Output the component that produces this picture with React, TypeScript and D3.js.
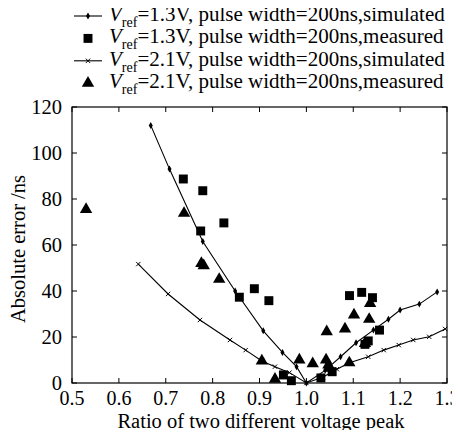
import React, { useEffect, useRef } from "react";
import * as d3 from "d3";

// V_ref = 1.3V simulated (line with dots)
const sim13X = [0.668, 0.708, 0.779, 0.848, 0.908, 0.949, 0.979, 1.0, 1.04, 1.073, 1.106, 1.143, 1.175, 1.2, 1.241, 1.279];
const sim13Y = [112, 93, 61.5, 40, 22.7, 13.3, 7.1, 0, 5.5, 11.4, 17.5, 23, 27.7, 31.7, 34.3, 39.6];

// V_ref = 2.1V simulated (line with x marks)
const sim21X = [0.6415, 0.705, 0.773, 0.837, 0.8705, 0.905, 0.933, 0.964, 1.0, 1.035, 1.065, 1.092, 1.132, 1.165, 1.197, 1.228, 1.262, 1.296];
const sim21Y = [51.7, 38.7, 27.4, 18.7, 14.3, 9.6, 7.1, 4.5, 0, 2.5, 6, 8.8, 11.4, 14.3, 16.5, 18.7, 20.1, 23.5];

// V_ref = 1.3V measured (squares)
const meas13X = [0.7375, 0.779, 0.824, 0.7745, 0.857, 0.889, 0.92, 0.951, 0.968, 1.031, 1.055, 1.092, 1.118, 1.141, 1.156, 1.132, 1.125];
const meas13Y = [88.7, 83.6, 69.6, 66.1, 37.3, 41, 35.8, 3.5, 1, 2.2, 4.9, 38, 39.4, 37.1, 23, 18.3, 16.8];

// V_ref = 2.1V measured (triangles)
const meas21X = [0.53, 0.739, 0.776, 0.781, 0.814, 0.905, 0.933, 0.985, 1.0135, 1.042, 1.0434, 1.047, 1.05, 1.0824, 1.0916, 1.1016, 1.125, 1.134, 1.136];
const meas21Y = [75.5, 73.8, 52, 51, 45.1, 9.6, 1.7, 10, 8.4, 10, 22.3, 7.8, 6.4, 23.5, 8.8, 29.6, 17.2, 27.7, 34.6];

const xTicks = [0.5, 0.6, 0.7, 0.8, 0.9, 1.0, 1.1, 1.2, 1.3];
const yTicks = [0, 20, 40, 60, 80, 100, 120];

const legendRows = [
    { v: "=1.3V, pulse width=200ns,simulated", mark: "dot" },
    { v: "=1.3V, pulse width=200ns,measured", mark: "square" },
    { v: "=2.1V, pulse width=200ns,simulated", mark: "cross" },
    { v: "=2.1V, pulse width=200ns,measured", mark: "triangle" },
];

const FONT = "'Liberation Serif', 'Times New Roman', serif";

const App = () => {
    const ref = useRef<HTMLDivElement>(null);

    useEffect(() => {
        const W = 460;
        const H = 438;
        const left = 72, right = 447, top = 107, bottom = 383;

        const svg = d3
            .select(ref.current)
            .html("")
            .append("svg")
            .attr("width", W)
            .attr("height", H)
            .style("display", "block")
            .style("background", "white");

        const x = d3.scaleLinear().domain([0.5, 1.3]).range([left, right]);
        const y = d3.scaleLinear().domain([0, 120]).range([bottom, top]);

        // frame
        svg.append("rect")
            .attr("x", left).attr("y", top)
            .attr("width", right - left).attr("height", bottom - top)
            .attr("fill", "none").attr("stroke", "black").attr("stroke-width", 1.2);

        const tl = 5;
        // ticks point inward, on all four sides
        xTicks.forEach((t) => {
            svg.append("line").attr("x1", x(t)).attr("x2", x(t)).attr("y1", bottom).attr("y2", bottom - tl).attr("stroke", "black");
            svg.append("line").attr("x1", x(t)).attr("x2", x(t)).attr("y1", top).attr("y2", top + tl).attr("stroke", "black");
            svg.append("text")
                .attr("x", x(t)).attr("y", 405)
                .attr("text-anchor", "middle")
                .attr("font-family", FONT).attr("font-size", 20)
                .text(d3.format(".1f")(t));
        });
        yTicks.forEach((t) => {
            svg.append("line").attr("x1", left).attr("x2", left + tl).attr("y1", y(t)).attr("y2", y(t)).attr("stroke", "black");
            svg.append("line").attr("x1", right).attr("x2", right - tl).attr("y1", y(t)).attr("y2", y(t)).attr("stroke", "black");
            svg.append("text")
                .attr("x", left - 10).attr("y", y(t) + 7)
                .attr("text-anchor", "end")
                .attr("font-family", FONT).attr("font-size", 20.5)
                .text(t);
        });

        svg.append("text")
            .attr("x", 261).attr("y", 428)
            .attr("text-anchor", "middle")
            .attr("font-family", FONT).attr("font-size", 20.5)
            .text("Ratio of two different voltage peak");

        svg.append("text")
            .attr("transform", `translate(25, ${249}) rotate(-90)`)
            .attr("text-anchor", "middle")
            .attr("font-family", FONT).attr("font-size", 20.5)
            .text("Absolute error /ns");

        const line = d3.line<[number, number]>().x((d) => x(d[0])).y((d) => y(d[1]));
        const sim13 = sim13X.map((v, i) => [v, sim13Y[i]] as [number, number]);
        const sim21 = sim21X.map((v, i) => [v, sim21Y[i]] as [number, number]);
        const m13 = meas13X.map((v, i) => [v, meas13Y[i]] as [number, number]);
        const m21 = meas21X.map((v, i) => [v, meas21Y[i]] as [number, number]);

        const plot = svg.append("g");

        const symDot = d3.symbol().type(d3.symbolDiamond).size(14);
        const symCross = d3.symbol().type(d3.symbolX).size(14);
        const symSquare = d3.symbol().type(d3.symbolSquare).size(80);
        const symTri = d3.symbol().type(d3.symbolTriangle).size(66);

        const drawMark = (g: any, kind: string, px: number, py: number) => {
            if (kind === "dot") {
                g.append("path").attr("d", symDot()).attr("transform", `translate(${px},${py})`).attr("fill", "black");
            } else if (kind === "cross") {
                g.append("path").attr("d", symCross()).attr("transform", `translate(${px},${py})`)
                    .attr("fill", "none").attr("stroke", "black").attr("stroke-width", 1);
            } else if (kind === "square") {
                g.append("path").attr("d", symSquare()).attr("transform", `translate(${px},${py})`).attr("fill", "black");
            } else {
                g.append("path").attr("d", symTri()).attr("transform", `translate(${px},${py})`).attr("fill", "black");
            }
        };

        plot.append("path").datum(sim13).attr("d", line).attr("fill", "none").attr("stroke", "black").attr("stroke-width", 1.1);
        plot.append("path").datum(sim21).attr("d", line).attr("fill", "none").attr("stroke", "black").attr("stroke-width", 1.1);
        sim13.forEach((d) => drawMark(plot, "dot", x(d[0]), y(d[1])));
        sim21.forEach((d) => drawMark(plot, "cross", x(d[0]), y(d[1])));
        m13.forEach((d) => drawMark(plot, "square", x(d[0]), y(d[1])));
        m21.forEach((d) => drawMark(plot, "triangle", x(d[0]), y(d[1])));

        // legend
        const legend = svg.append("g");
        legendRows.forEach((r, i) => {
            const by = 21 + i * 22.4;
            const cy = by - 5;
            if (r.mark === "dot" || r.mark === "cross") {
                legend.append("line").attr("x1", 74).attr("x2", 102).attr("y1", cy).attr("y2", cy)
                    .attr("stroke", "black").attr("stroke-width", 1.1);
            }
            drawMark(legend, r.mark, 88, cy);
            const t = legend.append("text")
                .attr("x", 109).attr("y", by)
                .attr("font-family", FONT).attr("font-size", 21);
            t.append("tspan").attr("font-style", "italic").text("V");
            t.append("tspan").attr("dy", 6).attr("font-size", 14).text("ref");
            t.append("tspan").attr("dy", -6).text(r.v);
        });
    }, []);

    return <div ref={ref} style={{ width: 460, height: 438, margin: -8 }} />;
};

export default App;
